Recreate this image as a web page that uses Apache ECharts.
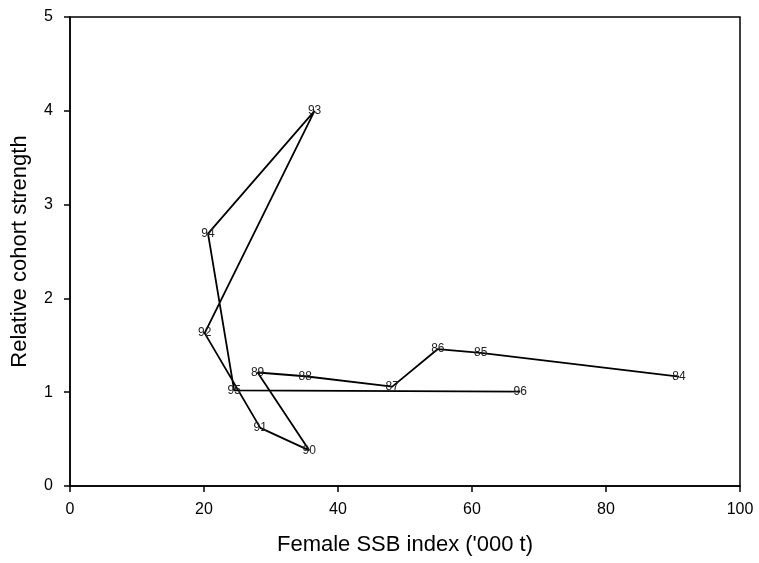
<!DOCTYPE html>
<html><head><meta charset="utf-8">
<script src="https://cdn.jsdelivr.net/npm/echarts@6/dist/echarts.min.js"></script>
<style>html,body{margin:0;padding:0;background:#fff}#c{width:759px;height:563px}</style>
</head><body><div id="c"></div>
<script>
var years = ['84','85','86','87','88','89','90','91','92','93','94','95','96'];
var ssb = [90.9, 61.3, 54.9, 48.1, 35.1, 28.0, 35.7, 28.4, 20.1, 36.5, 20.6, 24.5, 67.2];
var strength = [1.165, 1.42, 1.46, 1.06, 1.17, 1.21, 0.38, 0.62, 1.63, 4.0, 2.69, 1.02, 1.007];
var xTicks = [0, 20, 40, 60, 80, 100];
var yTicks = [0, 1, 2, 3, 4, 5];

var data = years.map(function(y, i){ return {name: y, value: [ssb[i], strength[i]]}; });
var chart = echarts.init(document.getElementById('c'));
var font = 'Liberation Sans, Arial, sans-serif';
chart.setOption({
  animation: false,
  grid: {left: 70, right: 19, top: 17, bottom: 77, show: true, borderColor: '#000', borderWidth: 1.5, backgroundColor: 'transparent'},
  xAxis: {
    type: 'value', min: xTicks[0], max: xTicks[xTicks.length-1], interval: 20,
    name: "Female SSB index ('000 t)", nameLocation: 'middle', nameGap: 48,
    nameTextStyle: {fontFamily: font, fontSize: 22, color: '#000'},
    axisLine: {lineStyle: {color: '#000', width: 1.5}},
    axisTick: {show: true, length: 6, lineStyle: {color: '#000', width: 1.5}},
    axisLabel: {fontFamily: font, fontSize: 16, color: '#000', margin: 16},
    splitLine: {show: false}
  },
  yAxis: {
    type: 'value', min: yTicks[0], max: yTicks[yTicks.length-1], interval: 1,
    name: 'Relative cohort strength', nameLocation: 'middle', nameGap: 39,
    nameTextStyle: {fontFamily: font, fontSize: 22, color: '#000'},
    axisLine: {show: true, lineStyle: {color: '#000', width: 1.5}},
    axisTick: {show: true, length: 6, lineStyle: {color: '#000', width: 1.5}},
    axisLabel: {fontFamily: font, fontSize: 16, color: '#000', margin: 17},
    splitLine: {show: false}
  },
  series: [{
    type: 'line',
    data: data,
    symbol: 'circle', symbolSize: 0.1,
    lineStyle: {color: '#000', width: 1.8},
    itemStyle: {color: '#000'},
    label: {show: true, position: 'inside', formatter: '{b}', fontFamily: font, fontSize: 12, color: '#222'}
  }]
});
</script></body></html>
